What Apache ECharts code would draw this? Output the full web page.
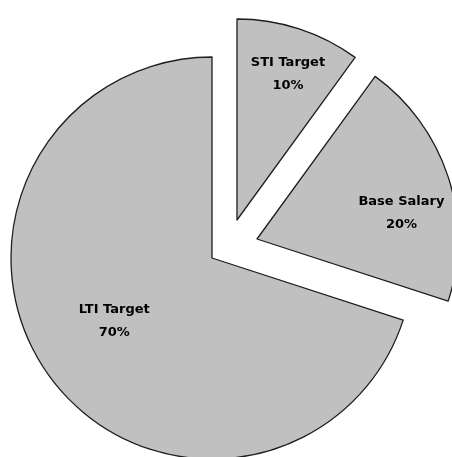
<!DOCTYPE html>
<html>
<head>
<meta charset="utf-8">
<script src="https://cdn.jsdelivr.net/npm/echarts@6/dist/echarts.min.js"></script>
<style>html,body{margin:0;padding:0;background:#fff}#c{width:452px;height:457px}</style>
</head>
<body>
<div id="c"></div>
<script>
var categories = ['STI Target', 'Base Salary', 'LTI Target'];
var values = [10, 20, 70];
var percentLabels = ['10%', '20%', '70%'];

// per-slice layout (explosion centers and label offsets)
var centers = [[237, 220], [257, 239], [212, 258]];
var labelOffsets = [[19, -47], [46, 6], [-14, 2]];

var chart = echarts.init(document.getElementById('c'), null, {renderer: 'canvas'});
var series = categories.map(function (name, k) {
  return {
    type: 'pie',
    center: centers[k],
    radius: 201,
    startAngle: 90,
    clockwise: true,
    silent: true,
    avoidLabelOverlap: false,
    animation: false,
    data: categories.map(function (n, i) {
      var visible = i === k;
      return {
        name: n,
        value: values[i],
        itemStyle: visible
          ? {color: '#c0c0c0', borderColor: '#1e1e1e', borderWidth: 1.3}
          : {color: 'rgba(0,0,0,0)', borderWidth: 0},
        label: visible
          ? {
              show: true,
              position: 'inside',
              formatter: n + '\n' + percentLabels[i],
              fontFamily: 'DejaVu Sans',
              fontWeight: 'bold',
              fontSize: 13,
              lineHeight: 23,
              color: '#000',
              offset: labelOffsets[k]
            }
          : {show: false},
        labelLine: {show: false}
      };
    })
  };
});
chart.setOption({animation: false, series: series});
</script>
</body>
</html>
